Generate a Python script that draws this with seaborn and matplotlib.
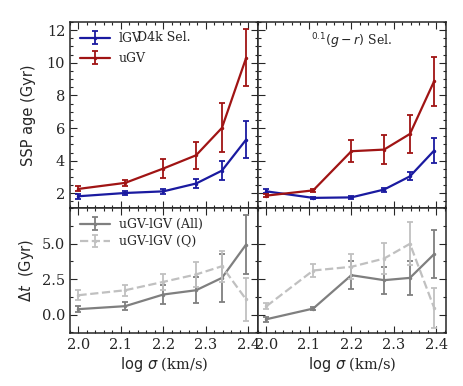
import numpy as np
import pandas as pd
import matplotlib
matplotlib.use("Agg")
import matplotlib.pyplot as plt
from matplotlib.ticker import MultipleLocator
import seaborn as sns

# ---------------- data ----------------
log_sigma = [2.0, 2.11, 2.2, 2.277, 2.338, 2.395]

# top-left: D4k selection
d4k_lgv = [1.82, 2.02, 2.12, 2.60, 3.39, 5.29]
d4k_lgv_err = [0.15, 0.12, 0.15, 0.30, 0.60, 1.15]
d4k_ugv = [2.27, 2.64, 3.52, 4.33, 6.01, 10.3]
d4k_ugv_err = [0.15, 0.20, 0.60, 0.83, 1.50, 1.75]

# top-right: (g-r) selection
gr_lgv = [2.12, 1.72, 1.75, 2.23, 3.04, 4.62]
gr_lgv_err = [0.12, 0.06, 0.08, 0.12, 0.25, 0.77]
gr_ugv = [1.86, 2.18, 4.58, 4.68, 5.64, 8.87]
gr_ugv_err = [0.10, 0.10, 0.67, 0.87, 1.15, 1.50]

# bottom-left: age differences (D4k)
d4k_dt_all = [0.38, 0.59, 1.41, 1.71, 2.58, 4.93]
d4k_dt_all_err = [0.23, 0.30, 0.70, 0.90, 1.68, 2.10]
d4k_dt_q = [1.36, 1.71, 2.30, 2.82, 3.40, 1.06]
d4k_dt_q_err = [0.35, 0.40, 0.55, 0.85, 1.10, 1.50]

# bottom-right: age differences (g-r)
gr_dt_all = [-0.33, 0.42, 2.77, 2.42, 2.58, 4.25]
gr_dt_all_err = [0.18, 0.10, 1.00, 0.94, 1.17, 1.68]
gr_dt_q = [0.59, 3.10, 3.36, 3.94, 4.98, 0.47]
gr_dt_q_err = [0.20, 0.47, 0.88, 1.10, 1.50, 1.40]

labels_top = ["lGV", "uGV"]
labels_bot = ["uGV-lGV (All)", "uGV-lGV (Q)"]
panel_titles = ["D4k Sel.", r"$^{0.1}(g-r)$ Sel."]
xticks = [2.0, 2.1, 2.2, 2.3, 2.4]

# ---------------- style ----------------
sns.set_style("ticks")
plt.rcParams["font.family"] = ["DejaVu Serif"]
plt.rcParams["mathtext.fontset"] = "dejavusans"
plt.rcParams["axes.linewidth"] = 1.1

BLUE = "#1a1aa0"
RED = "#a01414"
GRAY = "#7f7f7f"
LGRAY = "#c0c0c0"

fig = plt.figure(figsize=(4.63, 3.86), dpi=100)
gs = fig.add_gridspec(2, 2, height_ratios=[186, 125], left=70/463, right=446/463,
                      top=1-22/386, bottom=1-333/386, hspace=0, wspace=0)
axes = [[fig.add_subplot(gs[i, j]) for j in range(2)] for i in range(2)]


def draw(ax, y, err, color, label, ls="-"):
    df = pd.DataFrame({"x": log_sigma, "y": y})
    sns.lineplot(data=df, x="x", y="y", ax=ax, color=color, lw=1.6, ls=ls,
                 marker="o", markersize=2.5, markeredgewidth=0, legend=False)
    line = ax.lines[-1]
    eb = ax.errorbar(log_sigma, y, yerr=err, fmt="none", ecolor=color,
                     elinewidth=1.3, capsize=2.5, capthick=1.3)
    return (line, eb)


top_sets = [
    [(d4k_lgv, d4k_lgv_err, BLUE), (d4k_ugv, d4k_ugv_err, RED)],
    [(gr_lgv, gr_lgv_err, BLUE), (gr_ugv, gr_ugv_err, RED)],
]
bot_sets = [
    [(d4k_dt_all, d4k_dt_all_err, GRAY, "-"), (d4k_dt_q, d4k_dt_q_err, LGRAY, "--")],
    [(gr_dt_all, gr_dt_all_err, GRAY, "-"), (gr_dt_q, gr_dt_q_err, LGRAY, "--")],
]

for j in range(2):
    ax = axes[0][j]
    hs = []
    for (y, e, c), lab in zip(top_sets[j], labels_top):
        hs.append(draw(ax, y, e, c, lab))
    ax.set_ylim(1.1, 12.5)
    ax.yaxis.set_major_locator(MultipleLocator(2))
    ax.yaxis.set_minor_locator(MultipleLocator(0.5))
    ax.text(0.5, 0.95, panel_titles[j], transform=ax.transAxes, ha="center",
            va="top", fontsize=9)
    if j == 0:
        ax.legend(hs, labels_top, loc="upper left", frameon=False, fontsize=9,
                  handlelength=2.4, handletextpad=0.7, labelspacing=0.55,
                  borderaxespad=0.4)

    ax = axes[1][j]
    hs = []
    for (y, e, c, ls), lab in zip(bot_sets[j], labels_bot):
        hs.append(draw(ax, y, e, c, lab, ls))
    ax.set_ylim(-1.3, 7.5)
    ax.set_yticks([0.0, 2.5, 5.0])
    ax.yaxis.set_minor_locator(MultipleLocator(1.25))
    if j == 0:
        ax.legend(hs, labels_bot, loc="upper left", frameon=False, fontsize=9,
                  handlelength=2.4, handletextpad=0.7, labelspacing=0.35,
                  borderaxespad=0.4)

for i in range(2):
    for j in range(2):
        ax = axes[i][j]
        ax.set_xlim(1.98, 2.423)
        ax.set_xticks(xticks)
        ax.xaxis.set_minor_locator(MultipleLocator(0.02))
        ax.tick_params(which="both", direction="in", top=True, right=True,
                       labelsize=10.5, width=0.8)
        ax.tick_params(which="major", length=5)
        ax.tick_params(which="minor", length=2.5)
        ax.set_xlabel("")
        ax.set_ylabel("")
        if i == 0:
            ax.tick_params(labelbottom=False)
        else:
            ax.set_xticklabels(["2.0", "2.1", "2.2", "2.3", "2.4"])
            ax.set_xlabel(r"$\log\,\sigma$ (km/s)", fontsize=10.5, labelpad=2)
        if j == 1:
            ax.tick_params(labelleft=False)

axes[0][0].set_ylabel("SSP age (Gyr)", family="DejaVu Sans", fontsize=10.5)
axes[1][0].set_ylabel(r"$\Delta t$  (Gyr)", family="DejaVu Sans", fontsize=10.5)
fig.align_ylabels([axes[0][0], axes[1][0]])

fig.savefig("out.png", dpi=100)
